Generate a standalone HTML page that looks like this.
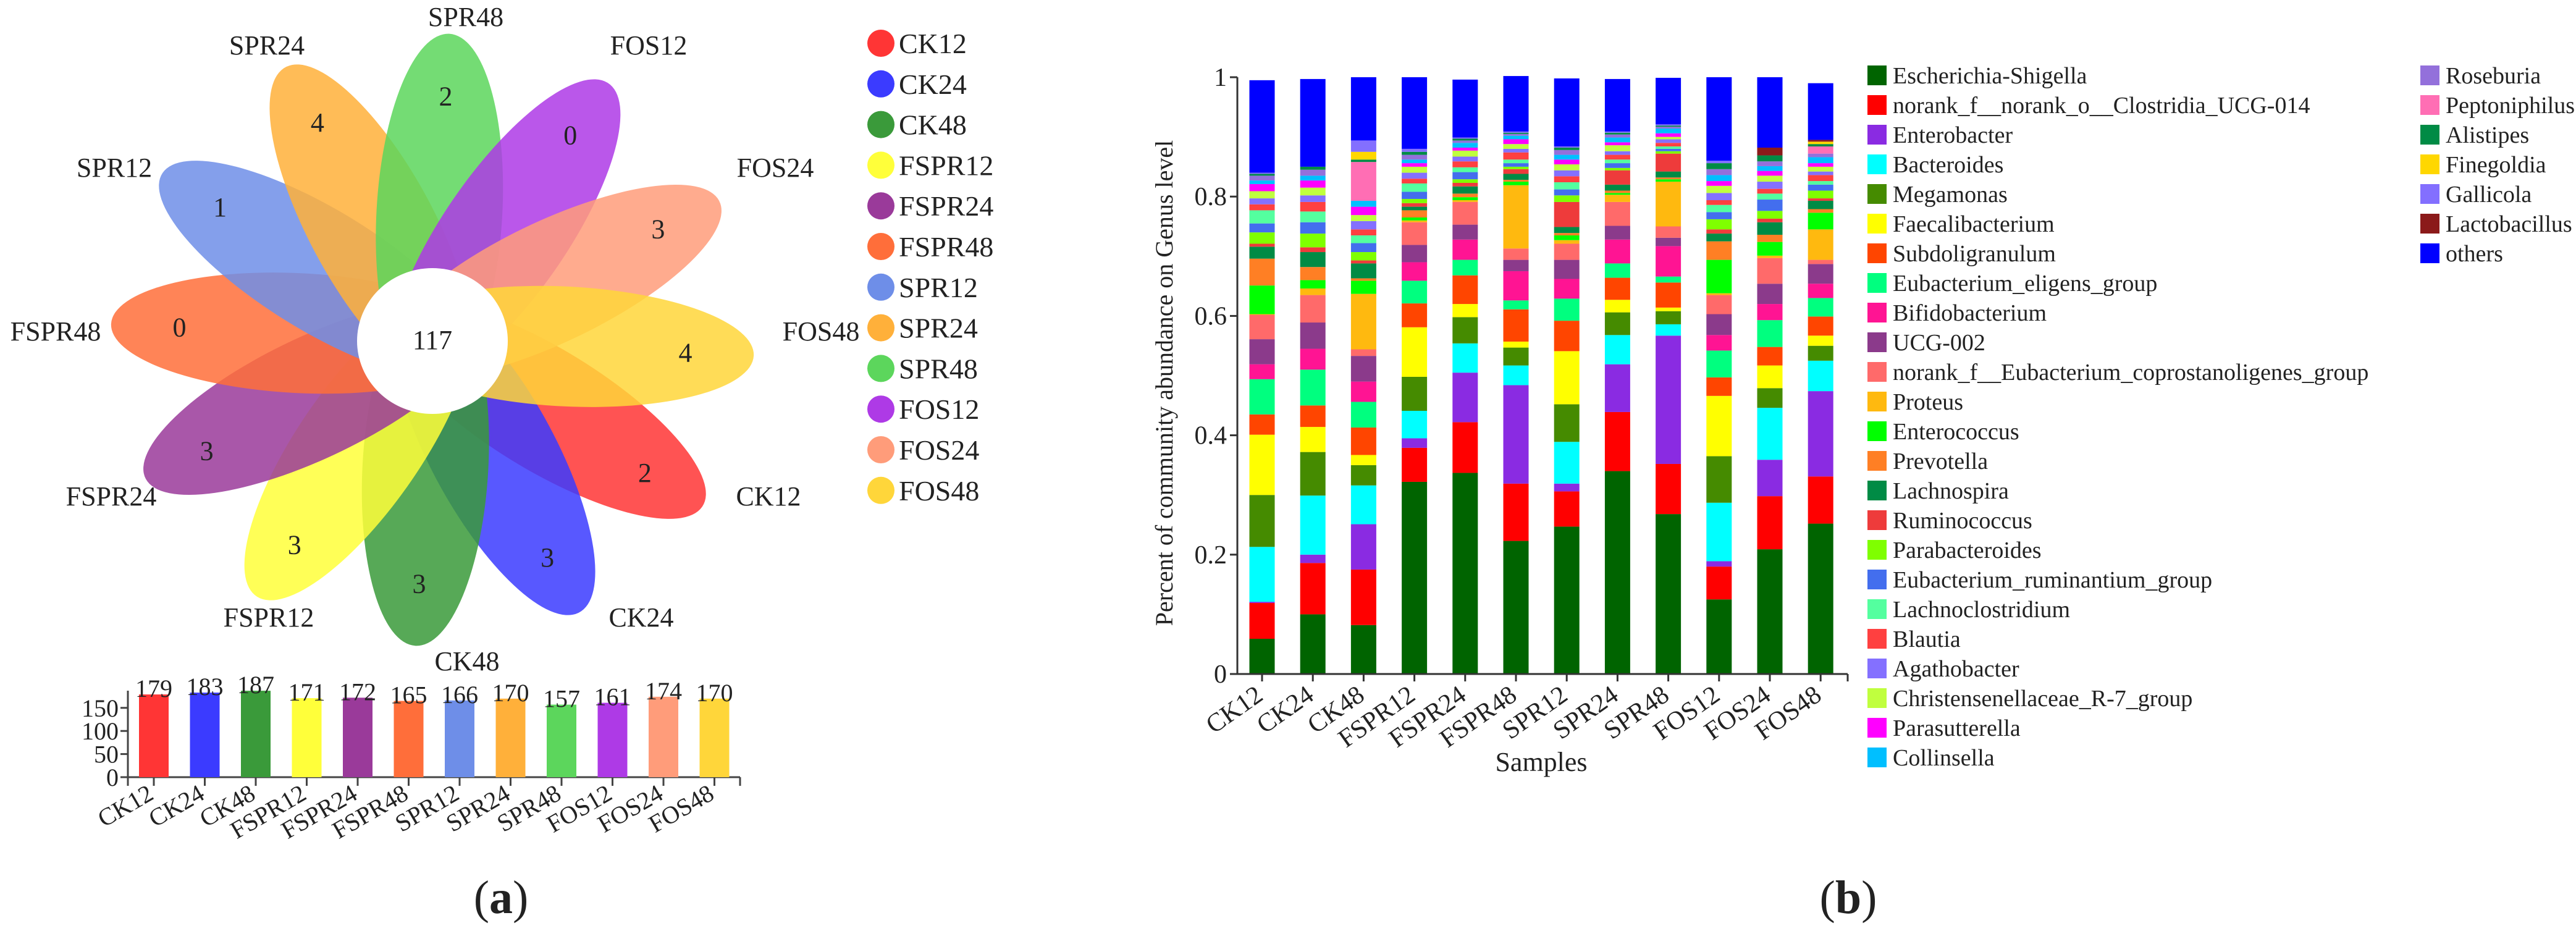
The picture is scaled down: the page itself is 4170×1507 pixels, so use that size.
<!DOCTYPE html>
<html><head><meta charset="utf-8"><style>
html,body{margin:0;padding:0;background:#fff}
svg{display:block}
svg text{font-family:"Liberation Serif","Times New Roman",serif;fill:#222}
</style></head><body>
<svg id="fig" width="4170" height="1507" viewBox="0 0 4170 1507" xmlns="http://www.w3.org/2000/svg" font-family="Liberation Serif, serif">
<g id="flower"></g>
<g id="flegend"></g>
<g id="sbar"></g>
<g id="stack"></g>
<g id="slegend"></g>
<text x="811" y="1478" font-size="76" text-anchor="middle" font-family="Liberation Serif, serif">(<tspan font-weight="bold">a</tspan>)</text>
<text x="2992" y="1478" font-size="76" text-anchor="middle" font-family="Liberation Serif, serif">(<tspan font-weight="bold">b</tspan>)</text>
</svg>
<script>
const groups=['CK12','CK24','CK48','FSPR12','FSPR24','FSPR48','SPR12','SPR24','SPR48','FOS12','FOS24','FOS48'];
const uniqueCounts=[2,3,3,3,3,0,1,4,2,0,3,4];
const totalCounts=[179,183,187,171,172,165,166,170,157,161,174,170];
const coreCount=117;
const sbarTicks=[0,50,100,150];
const groupColors=['#FF3535','#3B3BFF','#3A9A3A','#FFFF3A','#9A3A9A','#FF6E3A','#6E8EE8','#FFB03A','#5CD65C','#AE3AE6','#FF9C7A','#FFD63A'];
const NS='http://www.w3.org/2000/svg';
function mk(tag,attrs,parent){const e=document.createElementNS(NS,tag);for(const k in attrs)e.setAttribute(k,attrs[k]);if(tag==='text')e.setAttribute('font-family','Liberation Serif, serif');parent.appendChild(e);return e;}

// ---- Flower ----
const flower=document.getElementById('flower');
const FCX=700,FCY=550;
const labelPos=[[1244,818],[1038,1014],[756,1085],[435,1014],[180,818],[90,551],[185,286],[432,88],[754,42],[1050,88],[1255,286],[1329,551]];
const pg=mk('g',{transform:`translate(${FCX},${FCY}) scale(1.05,1)`},flower);
groups.forEach((g,i)=>{
  const ang=(123+30*i)%360;
  const el=mk('ellipse',{cx:0,cy:-206,rx:97,ry:290,fill:groupColors[i],'fill-opacity':0.85,transform:`rotate(${ang})`},pg);
  
  
});
mk('ellipse',{cx:FCX,cy:FCY+2,rx:122,ry:118,fill:'#fff'},flower);
groups.forEach((g,i)=>{
  const ang=(123+30*i)*Math.PI/180;
  const t=mk('text',{x:FCX+410*Math.sin(ang),y:FCY-395*Math.cos(ang)+15,'font-size':44,'text-anchor':'middle'},flower);
  t.textContent=uniqueCounts[i];
  
  
  const l=mk('text',{x:labelPos[i][0],y:labelPos[i][1],'font-size':44,'text-anchor':'middle'},flower);
  l.textContent=g;
  
  
});
const ct=mk('text',{x:FCX,y:FCY+15,'font-size':44,'text-anchor':'middle'},flower);
ct.textContent=coreCount;



// ---- Flower legend ----
const fl=document.getElementById('flegend');
groups.forEach((g,i)=>{
  const y=70+65.8*i;
  const c=mk('circle',{cx:1426,cy:y,r:22,fill:groupColors[i]},fl);
  
  
  const t=mk('text',{x:1455,y:y+16,'font-size':46},fl);
  t.textContent=g;
  
  
});

// ---- Small bar chart ----
const sb=document.getElementById('sbar');
const sbY0=1258,sbK=0.748,sbX0=249,sbStep=82.5,sbW=48;
const sy=v=>sbY0-v*sbK, sx=i=>sbX0+i*sbStep;
mk('line',{x1:207,y1:1118,x2:207,y2:sbY0,stroke:'#444','stroke-width':3},sb);
mk('line',{x1:195,y1:sbY0,x2:1198,y2:sbY0,stroke:'#444','stroke-width':3},sb);
mk('line',{x1:1198,y1:sbY0,x2:1198,y2:sbY0+14,stroke:'#444','stroke-width':3},sb);
mk('line',{x1:207,y1:sbY0,x2:207,y2:sbY0+14,stroke:'#444','stroke-width':3},sb);
sbarTicks.forEach(v=>{
  mk('line',{x1:195,y1:sy(v),x2:207,y2:sy(v),stroke:'#444','stroke-width':3},sb);
  const t=mk('text',{x:192,y:sy(v)+14,'font-size':40,'text-anchor':'end'},sb);
  t.textContent=v;
  
  
});
groups.forEach((g,i)=>{
  const r=mk('rect',{x:sx(i)-sbW/2,y:sy(totalCounts[i]),width:sbW,height:totalCounts[i]*sbK,fill:groupColors[i]},sb);
  
  
  const v=mk('text',{x:sx(i),y:sy(totalCounts[i])+4,'font-size':40,'text-anchor':'middle'},sb);
  v.textContent=totalCounts[i];
  
  
  mk('line',{x1:sx(i),y1:sbY0,x2:sx(i),y2:sbY0+14,stroke:'#444','stroke-width':3},sb);
  const l=mk('text',{x:sx(i)+2,y:sbY0+34,'font-size':40,'text-anchor':'end',transform:`rotate(-30 ${sx(i)+2} ${sbY0+34})`},sb);
  l.textContent=g;
  
  
});

// ---- Stacked chart ----
const genera=['Escherichia-Shigella','norank_f__norank_o__Clostridia_UCG-014','Enterobacter','Bacteroides','Megamonas','Faecalibacterium','Subdoligranulum','Eubacterium_eligens_group','Bifidobacterium','UCG-002','norank_f__Eubacterium_coprostanoligenes_group','Proteus','Enterococcus','Prevotella','Lachnospira','Ruminococcus','Parabacteroides','Eubacterium_ruminantium_group','Lachnoclostridium','Blautia','Agathobacter','Christensenellaceae_R-7_group','Parasutterella','Collinsella','Roseburia','Peptoniphilus','Alistipes','Finegoldia','Gallicola','Lactobacillus','others'];
const genusColors=['#006400','#FF0000','#8A2BE2','#00FFFF','#458B00','#FFFF00','#FF4500','#00FF7F','#FF1493','#8B3A8B','#FF6A6A','#FFB90F','#00FF00','#FF7F24','#008B45','#EE3B3B','#7FFF00','#436EEE','#54FF9F','#FF4040','#8470FF','#C0FF3E','#FF00FF','#00BFFF','#9370DB','#FF6EB4','#008B45','#FFD700','#836FFF','#8B1A1A','#0000FF'];
const vEsch=[0.059,0.100,0.082,0.322,0.337,0.223,0.247,0.340,0.268,0.125,0.209,0.252];
const vNorank=[0.060,0.086,0.093,0.057,0.085,0.096,0.059,0.099,0.084,0.055,0.089,0.079];
const vEntero=[0.002,0.014,0.076,0.016,0.083,0.165,0.013,0.080,0.215,0.009,0.061,0.143];
const vBacter=[0.092,0.099,0.065,0.046,0.049,0.033,0.070,0.049,0.019,0.098,0.087,0.051];
const vMegam=[0.087,0.073,0.034,0.057,0.044,0.030,0.063,0.038,0.022,0.078,0.033,0.025];
const vFaecali=[0.101,0.042,0.017,0.083,0.022,0.010,0.089,0.021,0.006,0.101,0.038,0.017];
const vSubdo=[0.034,0.036,0.046,0.040,0.048,0.054,0.051,0.037,0.042,0.031,0.031,0.032];
const vEubElig=[0.059,0.060,0.043,0.038,0.026,0.015,0.037,0.024,0.010,0.045,0.045,0.031];
const vBifido=[0.025,0.035,0.034,0.031,0.034,0.049,0.033,0.040,0.051,0.026,0.027,0.024];
const vUCG=[0.042,0.044,0.043,0.029,0.025,0.019,0.032,0.023,0.014,0.035,0.034,0.033];
const vCopro=[0.041,0.046,0.011,0.038,0.038,0.019,0.027,0.040,0.019,0.032,0.043,0.007];
const vProteus=[0.001,0.011,0.093,0.003,0.003,0.106,0.006,0.012,0.075,0.003,0.004,0.051];
const vEnteroc=[0.048,0.014,0.022,0.005,0.005,0.006,0.008,0.003,0.004,0.056,0.023,0.028];
const vPrevot=[0.045,0.022,0.004,0.012,0.006,0.003,0.004,0.004,0.003,0.031,0.012,0.006];
const vLachnosp=[0.020,0.025,0.025,0.006,0.012,0.010,0.010,0.010,0.010,0.013,0.021,0.014];
const vRumino=[0.005,0.008,0.005,0.006,0.006,0.008,0.042,0.024,0.030,0.007,0.006,0.004];
const vParabact=[0.019,0.023,0.014,0.007,0.006,0.004,0.011,0.004,0.004,0.017,0.013,0.013];
const vEubRum=[0.015,0.019,0.015,0.012,0.012,0.006,0.010,0.008,0.004,0.012,0.019,0.010];
const vLachnocl=[0.022,0.018,0.013,0.014,0.008,0.006,0.012,0.006,0.004,0.012,0.010,0.006];
const vBlautia=[0.010,0.016,0.010,0.008,0.010,0.012,0.010,0.008,0.006,0.008,0.008,0.010];
const vAgatho=[0.010,0.011,0.014,0.010,0.008,0.006,0.010,0.006,0.006,0.012,0.012,0.006];
const vChrist=[0.012,0.013,0.010,0.010,0.010,0.008,0.010,0.010,0.004,0.012,0.010,0.008];
const vParasut=[0.012,0.012,0.014,0.006,0.005,0.008,0.008,0.005,0.006,0.008,0.008,0.006];
const vCollins=[0.006,0.008,0.010,0.006,0.008,0.006,0.008,0.008,0.008,0.010,0.008,0.010];
const vRoseb=[0.008,0.010,0.000,0.008,0.004,0.003,0.008,0.005,0.003,0.010,0.008,0.006];
const vPepto=[0,0,0.065,0,0,0,0,0,0,0,0,0.012];
const vAlist=[0.003,0.005,0.004,0.005,0.003,0.002,0.004,0.003,0.002,0.010,0.010,0.004];
const vFineg=[0,0,0.013,0,0,0,0,0,0,0,0,0.004];
const vGallic=[0.002,0,0.019,0.005,0.002,0.002,0.002,0.002,0.002,0.004,0,0];
const vLacto=[0,0,0,0,0,0,0,0,0,0,0.013,0.003];
const vOthers=[0.155,0.147,0.106,0.120,0.097,0.093,0.114,0.088,0.078,0.140,0.118,0.095];
const stackTicks=['0','0.2','0.4','0.6','0.8','1'];
const series=[vEsch,vNorank,vEntero,vBacter,vMegam,vFaecali,vSubdo,vEubElig,vBifido,vUCG,vCopro,vProteus,vEnteroc,vPrevot,vLachnosp,vRumino,vParabact,vEubRum,vLachnocl,vBlautia,vAgatho,vChrist,vParasut,vCollins,vRoseb,vPepto,vAlist,vFineg,vGallic,vLacto,vOthers];

const st=document.getElementById('stack');
const Y0=1091,Y1=125,X0=2043,XS=82.2,BW=41;
const yS=v=>Y0-v*(Y0-Y1), xS=i=>X0+i*XS;
groups.forEach((g,i)=>{
  let acc=0;
  series.forEach((s,k)=>{
    const v=s[i]; if(v<=0)return;
    const top=acc+v;
    const r=mk('rect',{x:xS(i)-BW/2,y:yS(Math.min(top,1.02)),width:BW,height:Math.max(0,yS(acc)-yS(Math.min(top,1.02))),fill:genusColors[k]},st);
    
    
    acc=top;
  });
  mk('line',{x1:xS(i),y1:Y0,x2:xS(i),y2:Y0+12,stroke:'#333','stroke-width':3},st);
  const l=mk('text',{x:xS(i)+4,y:Y0+40,'font-size':42,'text-anchor':'end',transform:`rotate(-35 ${xS(i)+4} ${Y0+40})`},st);
  l.textContent=g;
  
  
});
mk('line',{x1:2003,y1:Y1,x2:2003,y2:Y0,stroke:'#333','stroke-width':3},st);
mk('line',{x1:2003,y1:Y0,x2:2991,y2:Y0,stroke:'#333','stroke-width':3},st);
mk('line',{x1:2991,y1:Y0,x2:2991,y2:Y0+12,stroke:'#333','stroke-width':3},st);
stackTicks.forEach(s=>{
  const v=parseFloat(s);
  mk('line',{x1:1991,y1:yS(v),x2:2003,y2:yS(v),stroke:'#333','stroke-width':3},st);
  const t=mk('text',{x:1986,y:yS(v)+14,'font-size':42,'text-anchor':'end'},st);
  t.textContent=s;
  
  
});
const yt=mk('text',{x:1898,y:620,'font-size':40,'text-anchor':'middle',transform:'rotate(-90 1898 620)'},st);
yt.textContent='Percent of community abundance on Genus level';


const xt=mk('text',{x:2495,y:1248,'font-size':44,'text-anchor':'middle'},st);
xt.textContent='Samples';



// ---- Genus legend ----
const sl=document.getElementById('slegend');
genera.forEach((g,k)=>{
  const col=k<24?0:1, row=k<24?k:k-24;
  const x=col?3918:3023, y=122+row*48;
  const r=mk('rect',{x:x,y:y-16,width:31,height:32,fill:genusColors[k]},sl);
  
  
  const t=mk('text',{x:x+41,y:y+13,'font-size':38},sl);
  t.textContent=g;
  
  
});
</script>
</body></html>
